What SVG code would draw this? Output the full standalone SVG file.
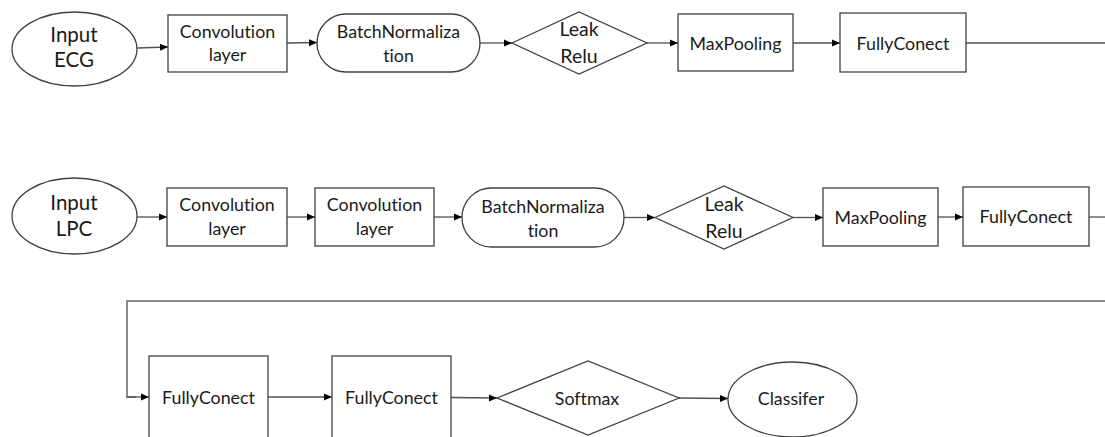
<svg xmlns="http://www.w3.org/2000/svg" width="1105" height="437" viewBox="0 0 1105 437">
  <style>
    .shape { fill: #ffffff; stroke: #404040; stroke-width: 1.3; }
    .conn { fill: none; stroke: #505050; stroke-width: 1.3; }
    .big { stroke: #8a8a8a; stroke-width: 2; }
    text { font-family: Lato, "Liberation Sans", sans-serif; font-size: 17.8px; fill: #1a1a1a; text-anchor: middle; font-variant-ligatures: none; font-feature-settings: "liga" 0, "clig" 0; }
    .in { font-size: 20.5px; }
    .lk { font-size: 19.5px; }
  </style>
  <defs>
    <marker id="arr" markerUnits="userSpaceOnUse" markerWidth="9" markerHeight="8" refX="8" refY="4" orient="auto">
      <path d="M0,0.5 L8,4 L0,7.5 Z" fill="#000000"/>
    </marker>
  </defs>
  <rect width="1105" height="437" fill="#ffffff"/>

  <g id="connectors">
    <line class="conn" x1="137" y1="48" x2="168" y2="47" marker-end="url(#arr)"/>
    <line class="conn" x1="287" y1="43" x2="317" y2="42.5" marker-end="url(#arr)"/>
    <line class="conn" x1="480" y1="43" x2="512" y2="43" marker-end="url(#arr)"/>
    <line class="conn" x1="647" y1="43" x2="678" y2="43" marker-end="url(#arr)"/>
    <line class="conn" x1="793" y1="43" x2="840" y2="43" marker-end="url(#arr)"/>
    <line class="conn" x1="966" y1="43" x2="1105" y2="43"/>

    <line class="conn" x1="137" y1="217" x2="167" y2="217" marker-end="url(#arr)"/>
    <line class="conn" x1="287" y1="217" x2="315" y2="217" marker-end="url(#arr)"/>
    <line class="conn" x1="434" y1="217" x2="462" y2="217" marker-end="url(#arr)"/>
    <line class="conn" x1="624" y1="217.5" x2="655" y2="217.5" marker-end="url(#arr)"/>
    <line class="conn" x1="793" y1="217.5" x2="823" y2="217.5" marker-end="url(#arr)"/>
    <line class="conn" x1="938" y1="217" x2="963" y2="217" marker-end="url(#arr)"/>
    <line class="conn" x1="1089" y1="217" x2="1105" y2="217"/>

    <polyline class="conn big" points="1105,301 127,301 127,397 136,397"/>
    <line class="conn" x1="127" y1="397" x2="149" y2="397" marker-end="url(#arr)"/>
    <line class="conn" x1="268" y1="397" x2="332" y2="397" marker-end="url(#arr)"/>
    <line class="conn" x1="451" y1="397.5" x2="497" y2="398" marker-end="url(#arr)"/>
    <line class="conn" x1="679" y1="398" x2="728" y2="398.5" marker-end="url(#arr)"/>
  </g>

  <g id="input-ecg">
    <ellipse class="shape" cx="74.5" cy="49" rx="62.5" ry="37"/>
    <text class="in" x="74" y="42">Input</text>
    <text class="in" x="74" y="67">ECG</text>
  </g>
  <g id="conv-1">
    <rect class="shape" x="168" y="15" width="119" height="57"/>
    <text x="227.5" y="38">Convolution</text>
    <text x="227.5" y="61">layer</text>
  </g>
  <g id="bn-1">
    <rect class="shape" x="317" y="14" width="163" height="58" rx="29" ry="29"/>
    <text x="398.5" y="37.5">BatchNormaliza</text>
    <text x="398.5" y="62">tion</text>
  </g>
  <g id="leak-1">
    <polygon class="shape" points="512,43 579,12 647,43 579,74"/>
    <text class="lk" x="579" y="36">Leak</text>
    <text class="lk" x="579" y="63">Relu</text>
  </g>
  <g id="maxpool-1">
    <rect class="shape" x="678" y="14" width="115" height="57"/>
    <text x="735.5" y="49.5">MaxPooling</text>
  </g>
  <g id="fc-1">
    <rect class="shape" x="840" y="13" width="126" height="59"/>
    <text x="903" y="49.5">FullyConect</text>
  </g>

  <g id="input-lpc">
    <ellipse class="shape" cx="74.5" cy="216" rx="62.5" ry="38"/>
    <text class="in" x="74" y="209.5">Input</text>
    <text class="in" x="74" y="236">LPC</text>
  </g>
  <g id="conv-2">
    <rect class="shape" x="167" y="188" width="120" height="58"/>
    <text x="227" y="210.5">Convolution</text>
    <text x="227" y="234.5">layer</text>
  </g>
  <g id="conv-3">
    <rect class="shape" x="315" y="188" width="119" height="58"/>
    <text x="374.5" y="210.5">Convolution</text>
    <text x="374.5" y="234.5">layer</text>
  </g>
  <g id="bn-2">
    <rect class="shape" x="462" y="188" width="162" height="59" rx="29.5" ry="29.5"/>
    <text x="543" y="212.5">BatchNormaliza</text>
    <text x="543" y="236.5">tion</text>
  </g>
  <g id="leak-2">
    <polygon class="shape" points="655,217.5 724,186 793,217.5 724,249"/>
    <text class="lk" x="724" y="210.5">Leak</text>
    <text class="lk" x="724" y="238">Relu</text>
  </g>
  <g id="maxpool-2">
    <rect class="shape" x="823" y="188" width="115" height="58"/>
    <text x="880.5" y="224">MaxPooling</text>
  </g>
  <g id="fc-2">
    <rect class="shape" x="963" y="187" width="126" height="59"/>
    <text x="1026" y="223">FullyConect</text>
  </g>

  <g id="fc-3">
    <rect class="shape" x="149" y="356" width="119" height="100"/>
    <text x="208.5" y="404">FullyConect</text>
  </g>
  <g id="fc-4">
    <rect class="shape" x="332" y="356" width="119" height="100"/>
    <text x="391.5" y="404">FullyConect</text>
  </g>
  <g id="softmax">
    <polygon class="shape" points="497,398 588,361 679,398 588,435"/>
    <text x="587" y="405">Softmax</text>
  </g>
  <g id="classifer">
    <ellipse class="shape" cx="792.5" cy="399.5" rx="64.5" ry="37.5"/>
    <text x="791" y="405">Classifer</text>
  </g>
</svg>
